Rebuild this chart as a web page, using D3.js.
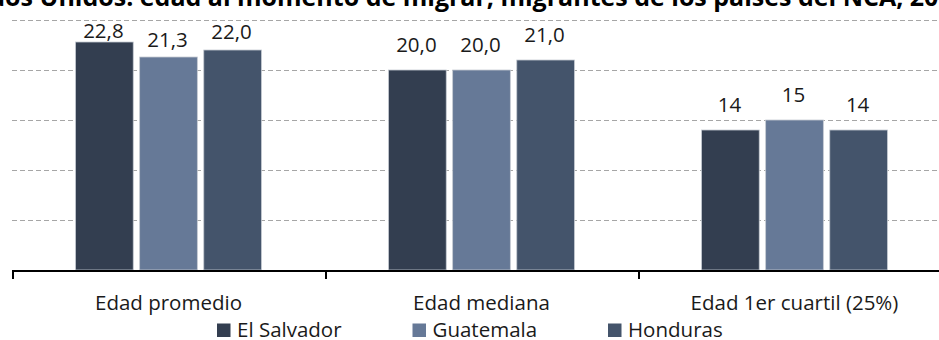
<!DOCTYPE html>
<html>
<head>
<meta charset="utf-8">
<script src="https://cdn.jsdelivr.net/npm/d3@7"></script>
<style>
  html, body { margin: 0; padding: 0; background: #fff; }
  svg { display: block; font-family: "Open Sans", sans-serif; }
</style>
</head>
<body>
<svg id="chart" width="939" height="340"></svg>
<script>
// Age at migration, by statistic and country
const categories = ["Edad promedio", "Edad mediana", "Edad 1er cuartil (25%)"];
const series = ["El Salvador", "Guatemala", "Honduras"];
const elSalvador = [22.8, 20.0, 14];
const guatemala = [21.3, 20.0, 15];
const honduras = [22.0, 21.0, 14];
const decimals = [1, 1, 0];
const yTicks = [0, 5, 10, 15, 20, 25];
const title = "Estados Unidos: edad al momento de migrar, migrantes de los países del NCA, 2019";

const seriesValues = [elSalvador, guatemala, honduras];
const colors = ["#333e50", "#667997", "#44546b"];
// distance between bar top and its value label baseline, per category / series
const labelLift = [[4.5, 10.5, 11], [17.7, 17.7, 17.7], [18.3, 18.3, 18.3]];
const fontSize = 20.5;
const titleSize = 25;

const svg = d3.select("#chart");

const x = d3.scaleBand().domain(categories).range([12, 951]).paddingInner(0).paddingOuter(0);
const bw = x.bandwidth();
const xs = d3.scaleBand().domain(series).range([bw * 0.203, bw * 0.797]).paddingInner(0.1).paddingOuter(0);
const y = d3.scaleLinear().domain([0, 25]).range([270, 20]);

// title (runs off the top edge)
const titleText = svg.append("text")
  .attr("y", 5.5)
  .attr("font-size", titleSize)
  .attr("font-weight", 700)
  .attr("fill", "#000")
  .text(title);
const probe = svg.append("text").attr("font-size", titleSize).attr("font-weight", 700).text("Estados ");
const prefixW = probe.node().getComputedTextLength();
probe.remove();
titleText.attr("x", 33 - prefixW);

// dashed gridlines
svg.append("g")
  .selectAll("line")
  .data(yTicks.filter(t => t > 0))
  .join("line")
  .attr("x1", 12).attr("x2", 939)
  .attr("y1", d => Math.round(y(d)) + 0.5)
  .attr("y2", d => Math.round(y(d)) + 0.5)
  .attr("stroke", "#a6a6a6")
  .attr("stroke-width", 1)
  .attr("stroke-dasharray", "5,3");

// bars
const rows = [];
categories.forEach((c, i) => {
  series.forEach((s, j) => {
    rows.push({ c, s, i, j, v: seriesValues[j][i] });
  });
});

svg.append("g")
  .selectAll("rect")
  .data(rows)
  .join("rect")
  .attr("x", d => x(d.c) + xs(d.s))
  .attr("width", xs.bandwidth())
  .attr("y", d => y(d.v))
  .attr("height", d => y(0) - y(d.v))
  .attr("fill", d => colors[d.j])
  .attr("stroke", "#c5cad2")
  .attr("stroke-width", 0.8);

// value labels
const fmt = (v, i) => v.toFixed(decimals[i]).replace(".", ",");
svg.append("g")
  .selectAll("text")
  .data(rows)
  .join("text")
  .attr("x", d => x(d.c) + xs(d.s) + xs.bandwidth() / 2 - 1)
  .attr("y", d => y(d.v) - labelLift[d.i][d.j])
  .attr("text-anchor", "middle")
  .attr("font-size", fontSize)
  .attr("fill", "#1a1a1a")
  .text(d => fmt(d.v, d.i));

// category axis
const axis = svg.append("g").attr("transform", "translate(0,271)");
axis.append("line")
  .attr("x1", 12).attr("x2", 939)
  .attr("stroke", "#000").attr("stroke-width", 2);
axis.selectAll("line.tick")
  .data(categories)
  .join("line")
  .attr("class", "tick")
  .attr("x1", d => x(d) + 1).attr("x2", d => x(d) + 1)
  .attr("y1", -1).attr("y2", 8)
  .attr("stroke", "#000").attr("stroke-width", 2);
axis.selectAll("text")
  .data(categories)
  .join("text")
  .attr("x", d => x(d) + bw / 2)
  .attr("y", 39)
  .attr("text-anchor", "middle")
  .attr("font-size", fontSize)
  .attr("fill", "#1a1a1a")
  .text(d => d);

// legend
const legend = svg.append("g").attr("transform", "translate(217,337)");
const item = legend.selectAll("g")
  .data(series)
  .join("g")
  .attr("transform", (d, j) => `translate(${j * 195.5},0)`);
item.append("rect")
  .attr("x", 0).attr("y", -13.5)
  .attr("width", 13.5).attr("height", 13.5)
  .attr("fill", (d, j) => colors[j]);
item.append("text")
  .attr("x", 20).attr("y", 0)
  .attr("font-size", fontSize)
  .attr("fill", "#1a1a1a")
  .text(d => d);
</script>
</body>
</html>
